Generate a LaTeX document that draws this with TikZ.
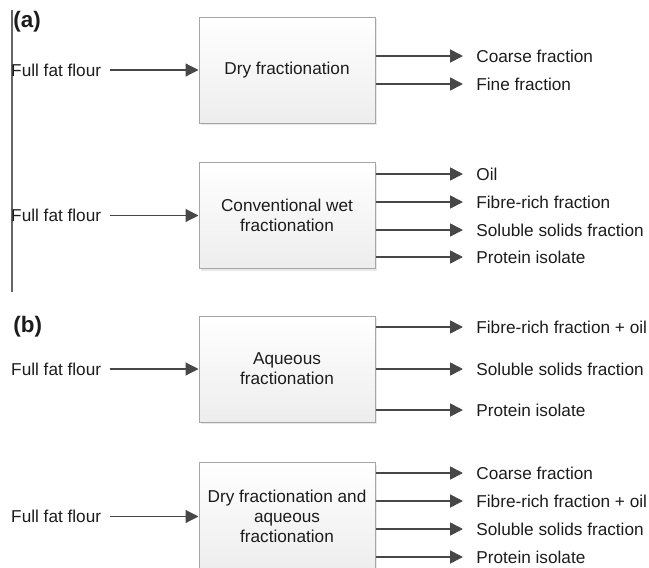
\documentclass[tikz,border=0pt]{standalone}
\usepackage{fontspec}
\setmainfont{Liberation Sans}
\usetikzlibrary{arrows.meta,positioning,shadows}
\definecolor{arrowgray}{HTML}{474747}
\definecolor{boxline}{HTML}{A6A6A6}
\definecolor{txt}{HTML}{1C1C1C}

\begin{document}
\begin{tikzpicture}[x=0.5pt,y=-0.5pt,>={Triangle[length=6.5pt,width=6.5pt]},
  every node/.style={font=\fontsize{8.6}{10}\selectfont,text=txt},
  proc/.style={draw=boxline,line width=0.5pt,top color=white,bottom color=gray!14,minimum width=88pt,minimum height=53pt,align=center,
    drop shadow={opacity=0.18,shadow xshift=1.2pt,shadow yshift=-1.2pt}},
  src/.style={inner xsep=4pt,inner ysep=0pt,text depth=0pt},
  prod/.style={anchor=west,inner xsep=6.5pt,inner ysep=0pt,text depth=0pt},
  tag/.style={anchor=west,inner sep=0pt,font=\fontsize{11.2}{13}\selectfont\bfseries},
  flow/.style={->,draw=arrowgray,line width=0.9pt},
  feed/.style={flow,line width=0.6pt}]
\useasboundingbox (0,0) rectangle (649,568);
\draw[gray!80!black,line width=0.6pt] (12,10) -- (12,292);
\node[tag] (taga) at (13,22) {(a)};
\node[tag] (tagb) at (13,327) {(b)};
% processing boxes
\node[proc] (dry) at (287,70) {Dry fractionation};
\node[proc] (wet) at (287,215.5) {Conventional wet\\fractionation};
\node[proc] (aq) at (287,369) {Aqueous\\fractionation};
\node[proc,minimum height=54pt] (dryaq) at (287,516.5) {Dry fractionation and\\aqueous\\fractionation};
% inputs
\foreach \b in {dry,wet,aq,dryaq} {
  \node[src,left=44.5pt of \b] (in\b) {Full fat flour};
  \draw[feed] (in\b) -- (\b);
}
% outputs
\foreach \txt/\y [count=\i] in {Coarse fraction/56,Fine fraction/84} {
  \node[prod] (dry\i) at (463,\y) {\txt}; \draw[flow] (dry.east |- dry\i.west) -- (dry\i.west); }
\foreach \txt/\y [count=\i] in {Oil/174,Fibre-rich fraction/202,Soluble solids fraction/230,Protein isolate/257} {
  \node[prod] (wet\i) at (463,\y) {\txt}; \draw[flow] (wet.east |- wet\i.west) -- (wet\i.west); }
\foreach \txt/\y [count=\i] in {Fibre-rich fraction + oil/327,Soluble solids fraction/369,Protein isolate/410} {
  \node[prod] (aq\i) at (463,\y) {\txt}; \draw[flow] (aq.east |- aq\i.west) -- (aq\i.west); }
\foreach \txt/\y [count=\i] in {Coarse fraction/473,Fibre-rich fraction + oil/501,Soluble solids fraction/529,Protein isolate/557} {
  \node[prod] (dryaq\i) at (463,\y) {\txt}; \draw[flow] (dryaq.east |- dryaq\i.west) -- (dryaq\i.west); }
\end{tikzpicture}
\end{document}
